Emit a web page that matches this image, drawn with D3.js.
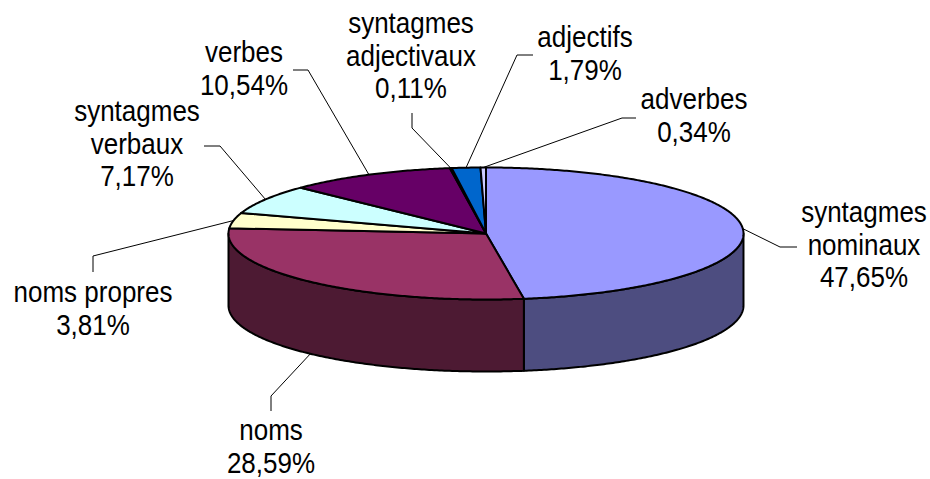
<!DOCTYPE html>
<html>
<head>
<meta charset="utf-8">
<script src="https://cdn.jsdelivr.net/npm/d3@7"></script>
<style>
  html, body { margin: 0; padding: 0; background: #fff; }
  svg { display: block; }
  text { font-family: "Liberation Sans", Arial, sans-serif; fill: #000; }
</style>
</head>
<body>
<script>
// categories (in pie order, clockwise from 12 o'clock)
var categories = [
  ["syntagmes", "nominaux"],
  ["noms"],
  ["noms propres"],
  ["syntagmes", "verbaux"],
  ["verbes"],
  ["syntagmes", "adjectivaux"],
  ["adjectifs"],
  ["adverbes"]
];
var values = [47.65, 28.59, 3.81, 7.17, 10.54, 0.11, 1.79, 0.34];
var colors = ["#9999FF", "#993366", "#FFFFCC", "#CCFFFF", "#660066", "#FF8080", "#0066CC", "#CCCCFF"];

// label placement (hand placed, like in the original sheet)
// x = text centre, y = first baseline, lead = leader points from label side to the elbow
var labelPos = [
  {x: 864, y: 222, lead: [[797, 247], [780, 247]], bottom: false},
  {x: 271, y: 440, lead: [[271, 411], [271, 396]], bottom: true},
  {x: 93, y: 302, lead: [[93, 272], [93, 256]], bottom: false},
  {x: 137, y: 121, lead: [[204, 146], [220, 146]], bottom: false},
  {x: 244, y: 62, lead: [[293, 70], [308, 70]], bottom: false},
  {x: 411, y: 33, lead: [[412, 113], [412, 128]], bottom: false},
  {x: 585, y: 47, lead: [[533, 55], [517, 55]], bottom: false},
  {x: 694, y: 109, lead: [[636, 118], [622, 118]], bottom: false}
];

var width = 930, height = 479;
var cx = 486, cy = 233.5, rx = 257.5, ry = 66, depth = 72;
var lineH = 32.5;

var svg = d3.select("body").append("svg")
  .attr("width", width)
  .attr("height", height);

var fr = d3.formatLocale({decimal: ",", thousands: " ", grouping: [3], currency: ["", " €"]});
var pct = fr.format(".2f");

var pie = d3.pie().sort(null).value(function (d) { return d; });
var arcs = pie(values);

var color = d3.scaleOrdinal().domain(d3.range(values.length)).range(colors);

// point on the top rim for angle a (0 = 12 o'clock, clockwise)
function rim(a, dy) {
  return [cx + rx * Math.sin(a), cy - ry * Math.cos(a) + (dy || 0)];
}

function arcPoints(a0, a1, dy) {
  var n = Math.max(2, Math.ceil(Math.abs(a1 - a0) / 0.01));
  return d3.range(n + 1).map(function (i) {
    return rim(a0 + (a1 - a0) * i / n, dy);
  });
}

var line = d3.line();

// side walls (front half only: PI/2 .. 3PI/2)
var sides = svg.append("g").attr("class", "sides");
arcs.forEach(function (d, i) {
  var a0 = Math.max(d.startAngle, Math.PI / 2),
    a1 = Math.min(d.endAngle, 3 * Math.PI / 2);
  if (a1 <= a0) return;
  var pts = arcPoints(a0, a1, 0).concat(arcPoints(a1, a0, depth));
  var c = d3.rgb(color(i));
  sides.append("path")
    .attr("d", line(pts) + "Z")
    .attr("fill", d3.rgb(c.r * 0.5, c.g * 0.5, c.b * 0.5))
    .attr("stroke", "#000")
    .attr("stroke-width", 2)
    .attr("stroke-linejoin", "round");
});

// top face
var tops = svg.append("g").attr("class", "tops");
arcs.forEach(function (d, i) {
  var pts = [[cx, cy]].concat(arcPoints(d.startAngle, d.endAngle, 0));
  tops.append("path")
    .attr("d", line(pts) + "Z")
    .attr("fill", color(i))
    .attr("stroke", "#000")
    .attr("stroke-width", 2)
    .attr("stroke-linejoin", "round");
});

// leader lines
var leaders = svg.append("g").attr("class", "leaders");
arcs.forEach(function (d, i) {
  var p = labelPos[i];
  var mid = (d.startAngle + d.endAngle) / 2;
  var anchor = rim(mid, p.bottom ? depth : 0);
  leaders.append("path")
    .attr("d", line(p.lead.concat([anchor])))
    .attr("fill", "none")
    .attr("stroke", "#000")
    .attr("stroke-width", 1);
});

// labels
var labels = svg.append("g").attr("class", "labels");
arcs.forEach(function (d, i) {
  var p = labelPos[i];
  var lines = categories[i].concat([pct(values[i]) + "%"]);
  lines.forEach(function (t, j) {
    labels.append("text")
      .attr("transform", "translate(" + p.x + "," + (p.y + j * lineH) + ") scale(1,1.1)")
      .attr("text-anchor", "middle")
      .style("font-size", "26px")
      .text(t);
  });
});
</script>
</body>
</html>
